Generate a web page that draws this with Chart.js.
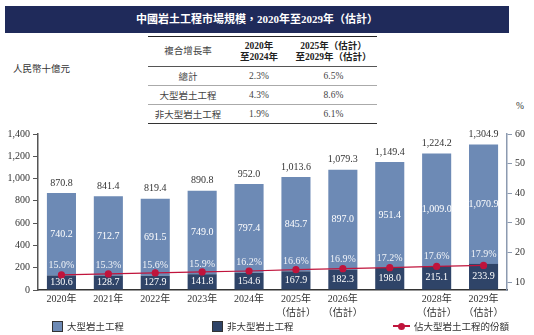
<!DOCTYPE html>
<html lang="zh-Hant">
<head>
  <meta charset="UTF-8"/>
  <title>中國岩土工程市場規模</title>
  <script src="https://cdn.jsdelivr.net/npm/chart.js"></script>
  <style>
    body {
      margin: 0;
      width: 534px;
      height: 335px;
      position: relative;
      background: #fff;
      font-family: 'Liberation Serif', 'Noto Sans CJK TC', serif;
      color: #333;
      overflow: hidden;
    }
    .band {
      position: absolute;
      left: 5px; top: 6px; width: 504px; height: 27px;
      background: #1f2a5a;
      color: #fff;
      font-size: 11px;
      font-weight: bold;
      text-align: center;
      line-height: 27px;
    }
    table {
      position: absolute;
      left: 148px; top: 36px; width: 229px;
      border-collapse: collapse;
      font-size: 9.5px;
      text-align: center;
      color: #444;
      table-layout: fixed;
    }
    table td { padding: 0; height: 18px; border-bottom: 1px solid #aaa; }
    table tr.head td { height: 29px; line-height: 11px; border-bottom: 1px solid #555; }
    table tr.head { border-top: 1.5px solid #222; }
    table tr:last-child td { border-bottom: 1.5px solid #333; }
    .b { font-weight: bold; color: #222; }
    .unit { position: absolute; left: 13px; top: 61px; font-size: 9.5px; }
    .pct { position: absolute; left: 516px; top: 101px; font-size: 9.5px; }
    #wrap { position: absolute; left: 0; top: 0; width: 534px; height: 335px; }
    .legend { position: absolute; top: 319px; font-size: 9.5px; display: flex; align-items: center; }
    .sw { width: 9px; height: 9px; border: 1px solid #333; margin-right: 4px; }
    .ln { width: 17px; height: 2px; background: #c0143c; position: relative; margin-right: 4px; }
    .ln::after { content: ''; position: absolute; left: 5px; top: -2.5px; width: 7px; height: 7px; border-radius: 50%; background: #c0143c; }
  </style>
</head>
<body>
  <div class="band">中國岩土工程市場規模，2020年至2029年（估計）</div>
  <table>
    <colgroup><col style="width:80px"><col style="width:62px"><col style="width:87px"></colgroup>
    <tr class="head"><td>複合增長率</td><td class="b">2020年<br>至2024年</td><td class="b">2025年（估計）<br>至2029年（估計）</td></tr>
    <tr><td>總計</td><td>2.3%</td><td>6.5%</td></tr>
    <tr><td>大型岩土工程</td><td>4.3%</td><td>8.6%</td></tr>
    <tr><td>非大型岩土工程</td><td>1.9%</td><td>6.1%</td></tr>
  </table>
  <div class="unit">人民幣十億元</div>
  <div class="pct">%</div>
  <div id="wrap"><canvas id="marketChart"></canvas></div>
  <div class="legend" style="left:52px"><span class="sw" style="background:#6d8ab5"></span>大型岩土工程</div>
  <div class="legend" style="left:212px"><span class="sw" style="background:#2f4468"></span>非大型岩土工程</div>
  <div class="legend" style="left:393px"><span class="ln"></span>佔大型岩土工程的份額</div>

  <script>
    const years = [
      ['2020年'], ['2021年'], ['2022年'], ['2023年'], ['2024年'],
      ['2025年', '（估計）'], ['2026年', '（估計）'], [''], ['2028年', '（估計）'], ['2029年', '（估計）']
    ];
    const largeProjects = [740.2, 712.7, 691.5, 749.0, 797.4, 845.7, 897.0, 951.4, 1009.0, 1070.9];
    const otherProjects = [130.6, 128.7, 127.9, 141.8, 154.6, 167.9, 182.3, 198.0, 215.1, 233.9];
    const totals = [870.8, 841.4, 819.4, 890.8, 952.0, 1013.6, 1079.3, 1149.4, 1224.2, 1304.9];
    const largeShare = [15.0, 15.3, 15.6, 15.9, 16.2, 16.6, 16.9, 17.2, 17.6, 17.9];
    const leftTicks = [0, 200, 400, 600, 800, 1000, 1200, 1400];
    const rightTicks = [10, 20, 30, 40, 50, 60];

    const fmt = v => v.toLocaleString('en-US', { minimumFractionDigits: 1, maximumFractionDigits: 1 });
    const numFont = "'Liberation Serif', serif";

    // value labels on bars
    const barLabels = {
      id: 'barLabels',
      afterDatasetsDraw(chart) {
        const ctx = chart.ctx;
        const dark = chart.getDatasetMeta(0).data;
        const light = chart.getDatasetMeta(1).data;
        ctx.save();
        ctx.textAlign = 'center';
        ctx.textBaseline = 'middle';
        ctx.font = '10px ' + numFont;
        dark.forEach((d, i) => {
          const l = light[i];
          ctx.fillStyle = '#ffffff';
          ctx.fillText(fmt(otherProjects[i]), d.x, (d.y + d.base) / 2);
          ctx.fillText(fmt(largeProjects[i]), l.x, (l.y + l.base) / 2);
          ctx.fillStyle = 'rgba(255,255,255,0.9)';
          ctx.fillText(largeShare[i].toFixed(1) + '%', d.x, d.y - 10);
          ctx.fillStyle = '#333';
          ctx.fillText(fmt(totals[i]), l.x, l.y - 10);
        });
        ctx.restore();
      }
    };

    const config = {
      type: 'bar',
      data: {
        labels: years,
        datasets: [
          {
            label: '非大型岩土工程',
            data: otherProjects,
            backgroundColor: '#2f4468',
            stack: 's',
            order: 2
          },
          {
            label: '大型岩土工程',
            data: largeProjects,
            backgroundColor: '#6d8ab5',
            stack: 's',
            order: 2
          },
          {
            type: 'line',
            label: '佔大型岩土工程的份額',
            data: largeShare,
            yAxisID: 'yShare',
            borderColor: '#c0143c',
            backgroundColor: '#c0143c',
            borderWidth: 1.2,
            pointRadius: 3,
            pointHoverRadius: 3,
            order: 0
          }
        ]
      },
      options: {
        responsive: true,
        maintainAspectRatio: false,
        animation: false,
        layout: { padding: { top: 134, left: 0, right: 0, bottom: 0 } },
        plugins: {
          legend: { display: false },
          tooltip: { enabled: false }
        },
        datasets: { bar: { categoryPercentage: 1, barPercentage: 0.62 } },
        scales: {
          x: {
            stacked: true,
            grid: { display: false, drawTicks: false },
            border: { color: '#333', width: 1.5 },
            ticks: { color: '#333', font: { size: 10, family: numFont + ", 'Noto Sans CJK TC'", lineHeight: 1.35 }, padding: 3, maxRotation: 0, autoSkip: false },
            afterFit: s => { s.height = 45; }
          },
          y: {
            stacked: true,
            position: 'left',
            min: 0,
            max: 1400,
            afterBuildTicks: s => { s.ticks = leftTicks.map(v => ({ value: v })); },
            grid: { drawOnChartArea: false, tickLength: 5, color: '#555' },
            border: { color: '#555', width: 1.5 },
            ticks: { color: '#333', font: { size: 10, family: numFont }, padding: 3 },
            afterFit: s => { s.width = 38; }
          },
          yRight: {
            position: 'right',
            min: 7.3,
            max: 60,
            afterBuildTicks: s => { s.ticks = rightTicks.map(v => ({ value: v })); },
            grid: { drawOnChartArea: false, tickLength: 5, color: '#8c9ab0' },
            border: { color: '#8c9ab0', width: 1.5 },
            ticks: { color: '#333', font: { size: 10, family: numFont }, padding: 3 },
            afterFit: s => { s.width = 27; }
          },
          yShare: {
            display: false,
            min: 10.4,
            max: 58
          }
        }
      },
      plugins: [barLabels]
    };

    new Chart(document.getElementById('marketChart'), config);
  </script>
</body>
</html>
